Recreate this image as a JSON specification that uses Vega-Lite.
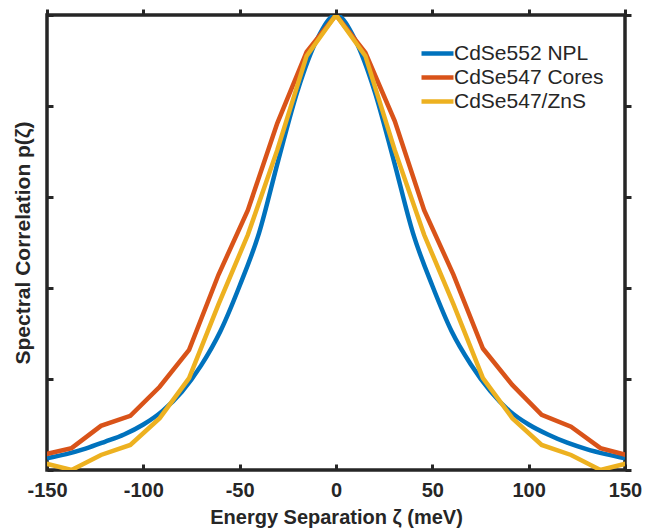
{
  "$schema": "https://vega.github.io/schema/vega-lite/v6.json",
  "width": 578,
  "height": 455,
  "autosize": "none",
  "padding": {"left": 47, "top": 15, "right": 20, "bottom": 58},
  "background": "white",
  "config": {
    "font": "Liberation Sans",
    "view": {"stroke": "#262626", "strokeWidth": 3.5},
    "axis": {"domain": false, "grid": false, "labelFlush": false, "tickColor": "#262626", "tickWidth": 3, "tickSize": -6, "labelColor": "#262626", "labelFont": "Liberation Sans", "labelFontWeight": "bold", "labelFontSize": 20, "titleFont": "Liberation Sans", "titleFontWeight": "bold", "titleFontSize": 20, "titleColor": "#262626"}
  },
  "data": {
    "values": [
      {"series": "CdSe552 NPL", "zeta": -150, "p": 0.026},
      {"series": "CdSe552 NPL", "zeta": -140, "p": 0.035},
      {"series": "CdSe552 NPL", "zeta": -130, "p": 0.047},
      {"series": "CdSe552 NPL", "zeta": -120, "p": 0.062},
      {"series": "CdSe552 NPL", "zeta": -110, "p": 0.078},
      {"series": "CdSe552 NPL", "zeta": -100, "p": 0.100},
      {"series": "CdSe552 NPL", "zeta": -90, "p": 0.130},
      {"series": "CdSe552 NPL", "zeta": -80, "p": 0.172},
      {"series": "CdSe552 NPL", "zeta": -70, "p": 0.230},
      {"series": "CdSe552 NPL", "zeta": -60, "p": 0.305},
      {"series": "CdSe552 NPL", "zeta": -50, "p": 0.405},
      {"series": "CdSe552 NPL", "zeta": -40, "p": 0.520},
      {"series": "CdSe552 NPL", "zeta": -30, "p": 0.680},
      {"series": "CdSe552 NPL", "zeta": -20, "p": 0.833},
      {"series": "CdSe552 NPL", "zeta": -10, "p": 0.945},
      {"series": "CdSe552 NPL", "zeta": 0, "p": 1.0},
      {"series": "CdSe552 NPL", "zeta": 10, "p": 0.945},
      {"series": "CdSe552 NPL", "zeta": 20, "p": 0.833},
      {"series": "CdSe552 NPL", "zeta": 30, "p": 0.680},
      {"series": "CdSe552 NPL", "zeta": 40, "p": 0.520},
      {"series": "CdSe552 NPL", "zeta": 50, "p": 0.405},
      {"series": "CdSe552 NPL", "zeta": 60, "p": 0.305},
      {"series": "CdSe552 NPL", "zeta": 70, "p": 0.232},
      {"series": "CdSe552 NPL", "zeta": 80, "p": 0.174},
      {"series": "CdSe552 NPL", "zeta": 90, "p": 0.130},
      {"series": "CdSe552 NPL", "zeta": 100, "p": 0.100},
      {"series": "CdSe552 NPL", "zeta": 110, "p": 0.078},
      {"series": "CdSe552 NPL", "zeta": 120, "p": 0.060},
      {"series": "CdSe552 NPL", "zeta": 130, "p": 0.046},
      {"series": "CdSe552 NPL", "zeta": 140, "p": 0.035},
      {"series": "CdSe552 NPL", "zeta": 150, "p": 0.026},
      {"series": "CdSe547 Cores", "zeta": -152.5, "p": 0.033},
      {"series": "CdSe547 Cores", "zeta": -137.25, "p": 0.048},
      {"series": "CdSe547 Cores", "zeta": -122, "p": 0.097},
      {"series": "CdSe547 Cores", "zeta": -106.75, "p": 0.119},
      {"series": "CdSe547 Cores", "zeta": -91.5, "p": 0.183},
      {"series": "CdSe547 Cores", "zeta": -76.25, "p": 0.264},
      {"series": "CdSe547 Cores", "zeta": -61, "p": 0.429},
      {"series": "CdSe547 Cores", "zeta": -45.75, "p": 0.571},
      {"series": "CdSe547 Cores", "zeta": -30.5, "p": 0.762},
      {"series": "CdSe547 Cores", "zeta": -15.25, "p": 0.919},
      {"series": "CdSe547 Cores", "zeta": 0, "p": 1.0},
      {"series": "CdSe547 Cores", "zeta": 15.25, "p": 0.917},
      {"series": "CdSe547 Cores", "zeta": 30.5, "p": 0.767},
      {"series": "CdSe547 Cores", "zeta": 45.75, "p": 0.571},
      {"series": "CdSe547 Cores", "zeta": 61, "p": 0.429},
      {"series": "CdSe547 Cores", "zeta": 76.25, "p": 0.267},
      {"series": "CdSe547 Cores", "zeta": 91.5, "p": 0.187},
      {"series": "CdSe547 Cores", "zeta": 106.75, "p": 0.121},
      {"series": "CdSe547 Cores", "zeta": 122, "p": 0.095},
      {"series": "CdSe547 Cores", "zeta": 137.25, "p": 0.048},
      {"series": "CdSe547 Cores", "zeta": 152.5, "p": 0.031},
      {"series": "CdSe547/ZnS", "zeta": -152.5, "p": 0.016},
      {"series": "CdSe547/ZnS", "zeta": -137.25, "p": 0.0},
      {"series": "CdSe547/ZnS", "zeta": -122, "p": 0.033},
      {"series": "CdSe547/ZnS", "zeta": -106.75, "p": 0.055},
      {"series": "CdSe547/ZnS", "zeta": -91.5, "p": 0.114},
      {"series": "CdSe547/ZnS", "zeta": -76.25, "p": 0.202},
      {"series": "CdSe547/ZnS", "zeta": -61, "p": 0.364},
      {"series": "CdSe547/ZnS", "zeta": -45.75, "p": 0.517},
      {"series": "CdSe547/ZnS", "zeta": -30.5, "p": 0.703},
      {"series": "CdSe547/ZnS", "zeta": -15.25, "p": 0.91},
      {"series": "CdSe547/ZnS", "zeta": 0, "p": 1.0},
      {"series": "CdSe547/ZnS", "zeta": 15.25, "p": 0.91},
      {"series": "CdSe547/ZnS", "zeta": 30.5, "p": 0.703},
      {"series": "CdSe547/ZnS", "zeta": 45.75, "p": 0.517},
      {"series": "CdSe547/ZnS", "zeta": 61, "p": 0.364},
      {"series": "CdSe547/ZnS", "zeta": 76.25, "p": 0.202},
      {"series": "CdSe547/ZnS", "zeta": 91.5, "p": 0.114},
      {"series": "CdSe547/ZnS", "zeta": 106.75, "p": 0.055},
      {"series": "CdSe547/ZnS", "zeta": 122, "p": 0.033},
      {"series": "CdSe547/ZnS", "zeta": 137.25, "p": 0.0},
      {"series": "CdSe547/ZnS", "zeta": 152.5, "p": 0.016}
    ]
  },
  "layer": [
    {
      "transform": [{"filter": "datum.series === 'CdSe552 NPL'"}],
      "mark": {"type": "line", "clip": true, "strokeWidth": 4.5, "interpolate": "monotone"},
      "encoding": {
        "x": {"field": "zeta", "type": "quantitative", "scale": {"domain": [-150, 150], "nice": false, "zero": false},
              "axis": {"orient": "bottom", "values": [-150, -100, -50, 0, 50, 100, 150], "labelExpr": "replace(datum.label, '\u2212', '-')", "labelPadding": 16, "title": "Energy Separation ζ (meV)", "titlePadding": 7}},
        "y": {"field": "p", "type": "quantitative", "scale": {"domain": [0, 1], "nice": false},
              "axis": {"orient": "left", "values": [0, 0.2, 0.4, 0.6, 0.8, 1], "labels": false, "title": "Spectral Correlation p(ζ)", "titleFontSize": 21, "titlePadding": 12}},
        "color": {"field": "series", "type": "nominal",
                  "scale": {"domain": ["CdSe552 NPL", "CdSe547 Cores", "CdSe547/ZnS"], "range": ["#0072BD", "#D95319", "#EDB120"]},
                  "legend": {"title": null, "orient": "none", "legendX": 380, "legendY": 28, "symbolType": "M-3.2,0H3.2", "symbolSize": 100, "symbolStrokeWidth": 4.5, "labelFontSize": 21, "labelFont": "Liberation Sans", "labelColor": "#262626", "labelOffset": 6, "rowPadding": 2, "padding": 0}}
      }
    },
    {
      "transform": [{"filter": "datum.series !== 'CdSe552 NPL'"}],
      "mark": {"type": "line", "clip": true, "strokeWidth": 4.5},
      "encoding": {
        "x": {"field": "zeta", "type": "quantitative", "scale": {"domain": [-150, 150], "nice": false, "zero": false}, "axis": null},
        "y": {"field": "p", "type": "quantitative", "scale": {"domain": [0, 1], "nice": false}, "axis": null},
        "color": {"field": "series", "type": "nominal"}
      }
    },
    {
      "mark": {"type": "line", "opacity": 0, "clip": true},
      "encoding": {
        "x": {"field": "zeta", "type": "quantitative", "scale": {"domain": [-150, 150], "nice": false, "zero": false}, "axis": {"orient": "top", "values": [-150, -100, -50, 0, 50, 100, 150], "labels": false, "title": null, "tickSize": 6}},
        "y": {"field": "p", "type": "quantitative", "scale": {"domain": [0, 1], "nice": false}, "axis": {"orient": "right", "values": [0, 0.2, 0.4, 0.6, 0.8, 1], "labels": false, "title": null, "tickSize": 6}},
        "detail": {"field": "series"}
      }
    }
  ],
  "resolve": {"axis": {"x": "independent", "y": "independent"}}
}
